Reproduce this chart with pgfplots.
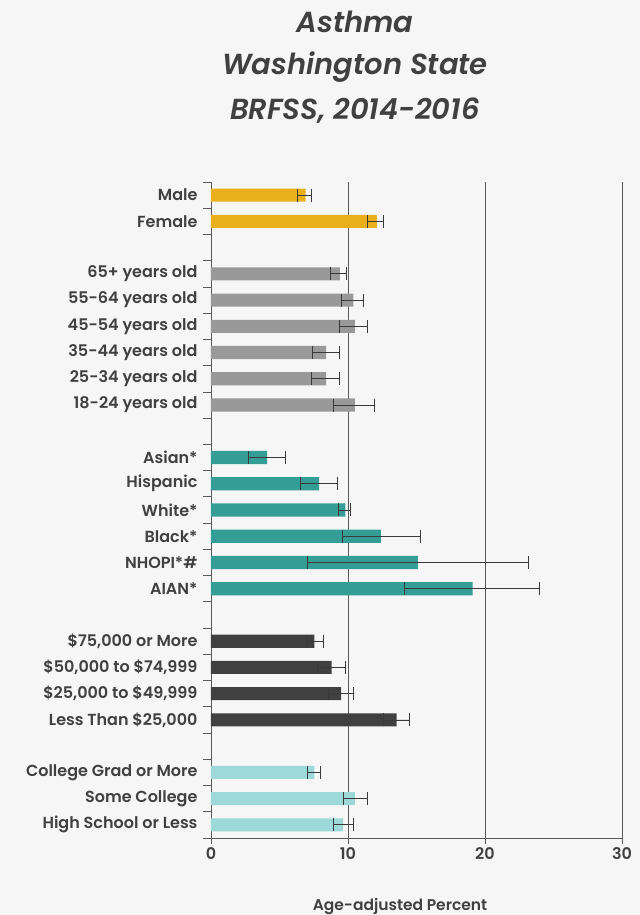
\documentclass[border=0pt]{standalone}
\usepackage{fontspec}
\setmainfont{Poppins}[BoldFont={Poppins SemiBold}, BoldItalicFont={Poppins SemiBold Italic}]
\usepackage{pgfplots}
\pgfplotsset{compat=1.18}
\usetikzlibrary{backgrounds,calc}
\definecolor{bg}{HTML}{F5F6F5}
\definecolor{txt}{HTML}{404040}
\definecolor{gold}{HTML}{EAB01C}
\definecolor{gr}{HTML}{999999}
\definecolor{tealc}{HTML}{349E96}
\definecolor{dark}{HTML}{404040}
\definecolor{lteal}{HTML}{9DD9D9}
\definecolor{gridc}{HTML}{5A5A5A}
\definecolor{errc}{HTML}{3A3A3A}
\pgfplotsset{eb/.style={error bars/.cd, x dir=both, x explicit,
  error bar style={draw=errc, line width=0.8pt},
  error mark options={draw=errc, line width=0.8pt, mark size=6.5bp, rotate=90}}}
\begin{document}
\begin{tikzpicture}
\begin{axis}[
  scale only axis, width=411bp, height=656bp,
  xbar, bar width=0.5, bar shift=0pt,
  xmin=0, xmax=30, xtick={0,10,20,30},
  ymin=-0.5, ymax=24.5,
  axis x line*=bottom, axis y line*=left,
  axis line style={draw=gridc, line width=0.8pt},
  xmajorgrids, grid style={draw=gridc, line width=0.8pt},
  tick align=outside, major tick length=6bp, minor tick length=8bp,
  tick style={draw=gridc, line width=0.8pt},
  every major y tick/.append style={draw=none},
  ytick={0,1,2,4,5,6,7,9,10,11,12,13,14,16,17,18,19,20,21,23,24},
  yticklabels={High School or Less, Some College, College Grad or More,
    Less Than \$25{,}000, \$25{,}000 to \$49{,}999, \$50{,}000 to \$74{,}999, \$75{,}000 or More,
    AIAN*, NHOPI*\#, Black*, White*, Hispanic, Asian*,
    18-24 years old, 25-34 years old, 35-44 years old, 45-54 years old, 55-64 years old, 65+ years old,
    Female, Male},
  minor ytick={-0.5,0.5,...,24.5},
  yticklabel style={font=\fontsize{16bp}{18bp}\selectfont\bfseries, text=txt, xshift=-4bp},
  xticklabel style={font=\fontsize{16bp}{18bp}\selectfont\bfseries, text=txt},
  /pgf/number format/assume math mode=true,
  clip=false,
]
\coordinate (O) at (rel axis cs:0,0);
\addplot[fill=gold, draw=none, eb] coordinates {
 (6.9,24) += (0.4,0) -= (0.6,0)
 (12.1,23) += (0.5,0) -= (0.7,0)
};
\addplot[fill=gr, draw=none, eb] coordinates {
 (9.4,21) += (0.5,0) -= (0.7,0)
 (10.4,20) += (0.7,0) -= (0.9,0)
 (10.5,19) += (0.9,0) -= (1.1,0)
 (8.4,18) += (1.0,0) -= (1.0,0)
 (8.4,17) += (1.0,0) -= (1.1,0)
 (10.5,16) += (1.4,0) -= (1.6,0)
};
\addplot[fill=tealc, draw=none, eb] coordinates {
 (4.1,14) += (1.3,0) -= (1.4,0)
 (7.9,13) += (1.3,0) -= (1.4,0)
 (9.8,12) += (0.4,0) -= (0.5,0)
 (12.4,11) += (2.9,0) -= (2.8,0)
 (15.1,10) += (8.1,0) -= (8.1,0)
 (19.1,9) += (4.9,0) -= (5.0,0)
};
\addplot[fill=dark, draw=none, eb] coordinates {
 (7.55,7) += (0.65,0) -= (0.6,0)
 (8.8,6) += (1.0,0) -= (1.0,0)
 (9.5,5) += (0.9,0) -= (0.9,0)
 (13.55,4) += (0.95,0) -= (0.95,0)
};
\addplot[fill=lteal, draw=none, eb] coordinates {
 (7.55,2) += (0.45,0) -= (0.55,0)
 (10.5,1) += (0.9,0) -= (0.8,0)
 (9.65,0) += (0.75,0) -= (0.75,0)
};
\end{axis}
\begin{scope}[on background layer]
\fill[bg] ($(O)+(-211bp,-77bp)$) rectangle ++(640bp,915bp);
\end{scope}
\begin{scope}[every node/.style={text=txt, font=\fontsize{29bp}{32bp}\selectfont\bfseries\itshape, anchor=base, inner sep=0pt}]
\node at ($(O)+(144bp,805bp)$) {Asthma};
\node at ($(O)+(144bp,763bp)$) {Washington State};
\node at ($(O)+(144bp,718bp)$) {BRFSS, 2014-2016};
\end{scope}
\node[anchor=base, inner sep=0pt, text=txt, font=\fontsize{15.5bp}{18bp}\selectfont\bfseries] at ($(O)+(189bp,-72bp)$) {Age-adjusted Percent};
\end{tikzpicture}
\end{document}
